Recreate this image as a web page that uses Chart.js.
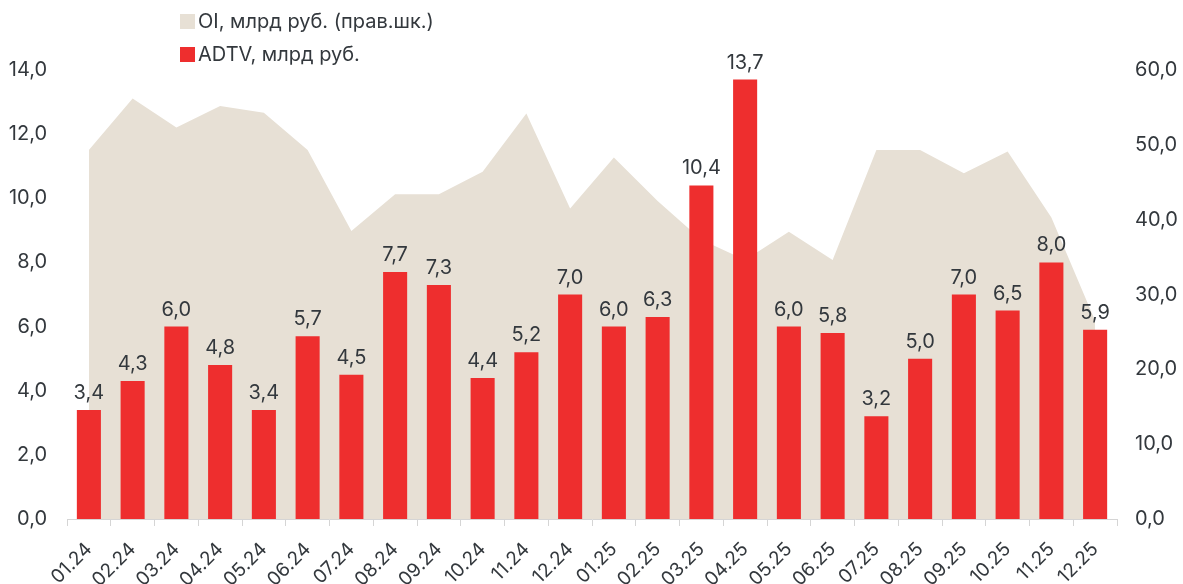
<!DOCTYPE html>
<html>
<head>
<meta charset="utf-8">
<script src="https://cdn.jsdelivr.net/npm/chart.js@4.4.1/dist/chart.umd.min.js"></script>
<style>
  html, body { margin:0; padding:0; background:#fff; }
  #wrap { position:relative; width:1183px; height:584px; }
  .li { position:absolute; left:180px; display:flex; align-items:center; height:20px; line-height:20px;
        font-family:Inter, "Noto Sans", sans-serif; font-size:20px; color:#33383d; white-space:nowrap; }
  .sw { width:15px; height:15px; margin-right:3px; }
</style>
</head>
<body>
<div id="wrap">
  <canvas id="c" width="1183" height="584"></canvas>
  <div class="li" style="top:11px"><span class="sw" style="background:#E7E0D5"></span><span>OI, млрд руб. (прав.шк.)</span></div>
  <div class="li" style="top:44px"><span class="sw" style="background:#EE2E2E"></span><span>ADTV, млрд руб.</span></div>
</div>
<script>
const categories = ["01.24","02.24","03.24","04.24","05.24","06.24","07.24","08.24","09.24","10.24","11.24","12.24",
                    "01.25","02.25","03.25","04.25","05.25","06.25","07.25","08.25","09.25","10.25","11.25","12.25"];
const adtv = [3.4,4.3,6.0,4.8,3.4,5.7,4.5,7.7,7.3,4.4,5.2,7.0,6.0,6.3,10.4,13.7,6.0,5.8,3.2,5.0,7.0,6.5,8.0,5.9];
const oi = [49.3,56.2,52.3,55.2,54.3,49.3,38.5,43.4,43.4,46.4,54.2,41.5,48.3,42.5,37.3,34.6,38.4,34.6,49.3,49.3,46.2,49.1,40.3,26.5];
const leftTicks = [0,2,4,6,8,10,12,14];
const rightTicks = [0,10,20,30,40,50,60];

const FONT = "Inter, 'Noto Sans', sans-serif";
const TXT = "#33383d";
const fmt = v => v.toFixed(1).replace('.', ',');

const barLabels = {
  id: 'barLabels',
  afterDatasetsDraw(chart) {
    const ctx = chart.ctx;
    const meta = chart.getDatasetMeta(1);
    ctx.save();
    ctx.font = "20px " + FONT;
    ctx.fillStyle = TXT;
    ctx.textAlign = 'center';
    ctx.textBaseline = 'bottom';
    meta.data.forEach((el, i) => {
      ctx.fillText(fmt(adtv[i]), el.x, el.y - 7);
    });
    ctx.restore();
  }
};

new Chart(document.getElementById('c'), {
  data: {
    labels: categories,
    datasets: [
      { type:'line', label:'OI, млрд руб. (прав.шк.)', data: oi, yAxisID:'y1', fill:'origin',
        backgroundColor:'#E7E0D5', borderWidth:0, pointRadius:0, tension:0, order:2 },
      { type:'bar', label:'ADTV, млрд руб.', data: adtv, yAxisID:'y', backgroundColor:'#EE2E2E',
        barPercentage:0.55, categoryPercentage:1, order:1 }
    ]
  },
  options: {
    responsive:false, animation:false,
    layout: { padding: { top: 70, left: 0, right: 0, bottom: 0 } },
    plugins: { legend: { display:false }, tooltip: { enabled:false } },
    scales: {
      x: {
        offset:true,
        afterFit: s => { s.paddingLeft = 0; s.paddingRight = 0; s.height = 65; },
        grid: { offset:true, drawOnChartArea:false, drawTicks:true, tickLength:7, color:'#d5d5d5' },
        border: { display:true, color:'#d5d5d5' },
        ticks: { color:TXT, font:{ family:FONT, size:19 }, maxRotation:45, minRotation:45, padding:12, autoSkip:false }
      },
      y: {
        position:'left', min:0, max:14,
        afterBuildTicks: s => { s.ticks = leftTicks.map(v => ({ value:v })); },
        afterFit: s => { s.width = 67; },
        grid: { display:false, drawTicks:false }, border: { display:false },
        ticks: { color:TXT, font:{ family:FONT, size:20 }, padding:20, callback: v => fmt(v) }
      },
      y1: {
        position:'right', min:0, max:60,
        afterBuildTicks: s => { s.ticks = rightTicks.map(v => ({ value:v })); },
        afterFit: s => { s.width = 66; },
        grid: { display:false, drawTicks:false }, border: { display:false },
        ticks: { color:TXT, font:{ family:FONT, size:20 }, padding:18, callback: v => fmt(v) }
      }
    }
  },
  plugins: [barLabels]
});
</script>
</body>
</html>
